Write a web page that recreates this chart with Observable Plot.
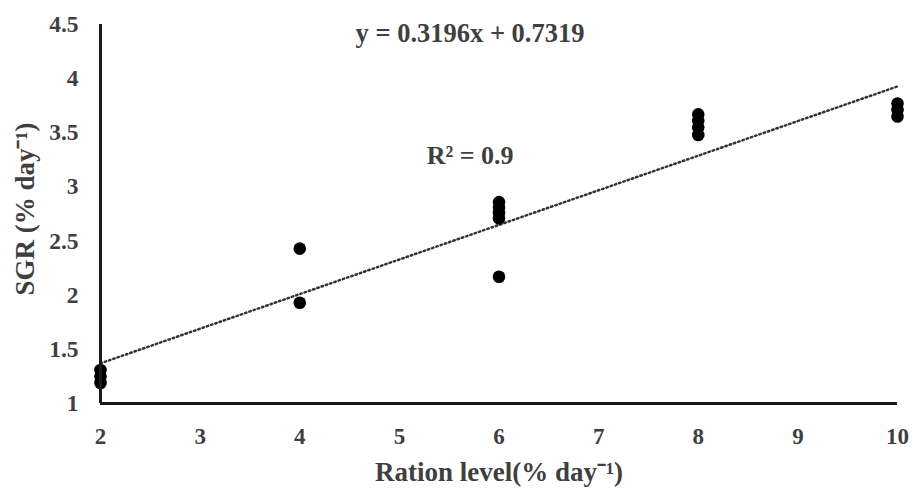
<!DOCTYPE html>
<html>
<head>
<meta charset="utf-8">
<script src="https://cdn.jsdelivr.net/npm/d3@7"></script>
<script src="https://cdn.jsdelivr.net/npm/@observablehq/plot@0.6"></script>
<style>
  html, body { margin: 0; padding: 0; background: #fff; }
  svg { display: block; }
</style>
</head>
<body>
<div id="chart"></div>
<script>
// Data
const ration = [2, 2, 2, 4, 4, 6, 6, 6, 6, 6, 8, 8, 8, 8, 10, 10, 10];
const sgr    = [1.19, 1.25, 1.31, 2.43, 1.93, 2.17, 2.71, 2.76, 2.81, 2.86, 3.48, 3.55, 3.61, 3.67, 3.65, 3.71, 3.77];
const slope = 0.3196;
const intercept = 0.7319;
const trendX = [2, 10];
const xTicks = [2, 3, 4, 5, 6, 7, 8, 9, 10];
const yTicks = [1, 1.5, 2, 2.5, 3, 3.5, 4, 4.5];
const eqLabel = "y = 0.3196x + 0.7319";
const r2Label = "R² = 0.9";
const xTitle = "Ration level(% day⁻¹)";
const yTitle = "SGR (% day⁻¹)";

const points = ration.map((x, i) => ({x, y: sgr[i]}));
const trend = trendX.map(x => ({x, y: slope * x + intercept}));

const font = "'Liberation Serif', 'Times New Roman', serif";
const txt = "#3f3f3f";
const chart = Plot.plot({
  width: 912,
  height: 488,
  marginLeft: 100,
  marginRight: 15,
  marginTop: 24,
  marginBottom: 85,
  style: {fontFamily: font, fontWeight: "bold", color: txt, background: "#fff"},
  x: {domain: [2, 10], label: null},
  y: {domain: [1, 4.5], label: null},
  marks: [
    Plot.axisX({ticks: xTicks, tickFormat: d => String(d), tickSize: 0, tickPadding: 24, fill: txt, fontSize: 23, label: null}),
    Plot.axisY({ticks: yTicks, tickFormat: d => String(d), tickSize: 0, tickPadding: 22, fill: txt, fontSize: 23.5, label: null}),
    Plot.line(trend, {x: "x", y: "y", stroke: "#333", strokeWidth: 2.5, strokeDasharray: "1.5,3", strokeLinecap: "round"}),
    Plot.dot(points, {x: "x", y: "y", r: 6.3, fill: "#000", stroke: "none"}),
    Plot.ruleX([2], {stroke: "#1a1a1a", strokeWidth: 3}),
    Plot.ruleY([1], {stroke: "#1a1a1a", strokeWidth: 3}),
    Plot.text([eqLabel], {frameAnchor: "top", lineAnchor: "middle", dx: -29, dy: 9, fontSize: 26.5, fill: txt, fontWeight: "bold"}),
    Plot.text([r2Label], {x: [5.71], y: [3.29], lineAnchor: "middle", fontSize: 26, fill: txt, fontWeight: "bold"}),
    Plot.text([xTitle], {frameAnchor: "bottom", lineAnchor: "middle", textAnchor: "middle", dy: 69, dx: 0, fontSize: 27, fill: txt, fontWeight: "bold"}),
    Plot.text([yTitle], {frameAnchor: "left", textAnchor: "middle", lineAnchor: "middle", dx: -75, dy: -5, rotate: -90, fontSize: 27, fill: txt, fontWeight: "bold"})
  ]
});
document.getElementById("chart").appendChild(chart);
</script>
</body>
</html>
